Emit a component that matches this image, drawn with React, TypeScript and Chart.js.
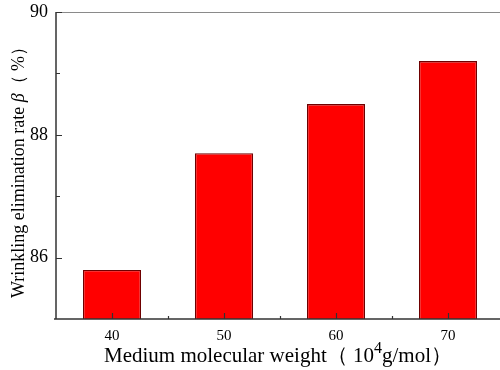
import React, { useEffect, useRef } from "react";
import { Chart, registerables } from "chart.js";

Chart.register(...registerables);

const categories = ["40", "50", "60", "70"];
const values = [85.8, 87.7, 88.5, 89.2];
const yMajorTicks = [86, 88, 90];
const yMinorTicks = [87, 89];
const yMin = 85;
const yMax = 90;
const xTitleA = "Medium molecular weight\uFF08 10";
const xTitleSup = "4";
const xTitleB = "g/mol\uFF09";
const yTitleA = "Wrinkling elimination rate ";
const yTitleGreek = "\u03B2";
const yTitleB = "\uFF08 %\uFF09";

const SERIF = "'Liberation Serif', 'Times New Roman', 'DejaVu Serif', serif";

const axesPlugin = {
  id: "customAxes",
  afterDraw(chart: any) {
    const { ctx, chartArea, scales } = chart;
    const xs = scales.x;
    const ys = scales.y;
    const L = chartArea.left;
    const R = chartArea.right;
    const T = chartArea.top;
    const B = chartArea.bottom;
    ctx.save();
    // top frame line
    ctx.strokeStyle = "#8a8a8a";
    ctx.lineWidth = 1.2;
    ctx.beginPath();
    ctx.moveTo(L, T + 0.5);
    ctx.lineTo(R, T + 0.5);
    ctx.stroke();
    // left + bottom axis
    ctx.strokeStyle = "#333333";
    ctx.lineWidth = 1.5;
    ctx.beginPath();
    ctx.moveTo(L, T);
    ctx.lineTo(L, B);
    ctx.moveTo(L - 2, B);
    ctx.lineTo(R, B);
    ctx.stroke();
    // y ticks (inward)
    ctx.lineWidth = 1.2;
    ctx.beginPath();
    yMajorTicks.forEach((v) => {
      const y = Math.round(ys.getPixelForValue(v)) + 0.5;
      ctx.moveTo(L, y);
      ctx.lineTo(L + 6, y);
    });
    yMinorTicks.forEach((v) => {
      const y = Math.round(ys.getPixelForValue(v)) + 0.5;
      ctx.moveTo(L, y);
      ctx.lineTo(L + 4, y);
    });
    // x ticks (inward)
    categories.forEach((_, i) => {
      const x = Math.round(xs.getPixelForValue(i)) + 0.5;
      ctx.moveTo(x, B);
      ctx.lineTo(x, B - 6);
      if (i < categories.length - 1) {
        const xm = Math.round(xs.getPixelForValue(i + 0.5)) + 0.5;
        ctx.moveTo(xm, B);
        ctx.lineTo(xm, B - 3);
      }
    });
    ctx.stroke();

    // x title
    ctx.fillStyle = "#000";
    ctx.textBaseline = "alphabetic";
    ctx.textAlign = "left";
    const fMain = "21px " + SERIF;
    const fSup = "16px " + SERIF;
    ctx.font = fMain;
    const wA = ctx.measureText(xTitleA).width;
    const wB = ctx.measureText(xTitleB).width;
    ctx.font = fSup;
    const wS = ctx.measureText(xTitleSup).width;
    const total = wA + wS + wB;
    const x0 = 278 - total / 2;
    const baseY = 362;
    ctx.font = fMain;
    ctx.fillText(xTitleA, x0, baseY);
    ctx.font = fSup;
    ctx.fillText(xTitleSup, x0 + wA, baseY - 9);
    ctx.font = fMain;
    ctx.fillText(xTitleB, x0 + wA + wS, baseY);

    // y title
    ctx.translate(19, 168);
    ctx.rotate(-Math.PI / 2);
    ctx.textBaseline = "middle";
    const fY = "18px " + SERIF;
    const fIt = "italic 18px " + SERIF;
    ctx.font = fY;
    const yA = ctx.measureText(yTitleA).width;
    const yB = ctx.measureText(yTitleB).width;
    ctx.font = fIt;
    const yG = ctx.measureText(yTitleGreek).width;
    const yt = yA + yG + yB;
    const s = -yt / 2;
    ctx.font = fY;
    ctx.fillText(yTitleA, s, 0);
    ctx.font = fIt;
    ctx.fillText(yTitleGreek, s + yA, 0);
    ctx.font = fY;
    ctx.fillText(yTitleB, s + yA + yG, 0);
    ctx.restore();
  },
};

export default function App() {
  const ref = useRef<HTMLCanvasElement>(null);
  useEffect(() => {
    if (!ref.current) return;
    const chart = new Chart(ref.current, {
      type: "bar",
      data: {
        labels: categories,
        datasets: [
          {
            data: values,
            backgroundColor: "#ff0000",
            borderColor: "#6e0000",
            borderWidth: 1.4,
            barPercentage: 0.52,
            categoryPercentage: 1,
          },
        ],
      },
      options: {
        responsive: false,
        animation: false,
        layout: { padding: { top: 12, left: 0, right: 0, bottom: 0 } },
        plugins: {
          legend: { display: false },
          tooltip: { enabled: false },
          title: { display: false },
        },
        scales: {
          x: {
            offset: true,
            grid: { display: false, drawTicks: false, tickLength: 0 },
            border: { display: false },
            ticks: {
              color: "#000",
              font: { family: SERIF, size: 15 },
              padding: 8,
              maxRotation: 0,
            },
            afterFit: (s: any) => {
              s.height = 51;
              s.paddingLeft = 0;
              s.paddingRight = 0;
            },
          },
          y: {
            min: yMin,
            max: yMax,
            grid: { display: false, drawTicks: false, tickLength: 0 },
            border: { display: false },
            afterBuildTicks: (s: any) => {
              s.ticks = yMajorTicks.map((v) => ({ value: v }));
            },
            ticks: {
              color: "#000",
              font: { family: SERIF, size: 18 },
              padding: 8,
            },
            afterFit: (s: any) => {
              s.width = 56;
              s.paddingTop = 0;
              s.paddingBottom = 0;
            },
          },
        },
      },
      plugins: [axesPlugin],
    });
    return () => chart.destroy();
  }, []);
  return (
    <div
      style={{
        position: "fixed",
        left: 0,
        top: 0,
        width: 500,
        height: 370,
        overflow: "hidden",
        background: "#fff",
      }}
    >
      <canvas ref={ref} width={504} height={370} style={{ width: 504, height: 370, display: "block" }} />
    </div>
  );
}
